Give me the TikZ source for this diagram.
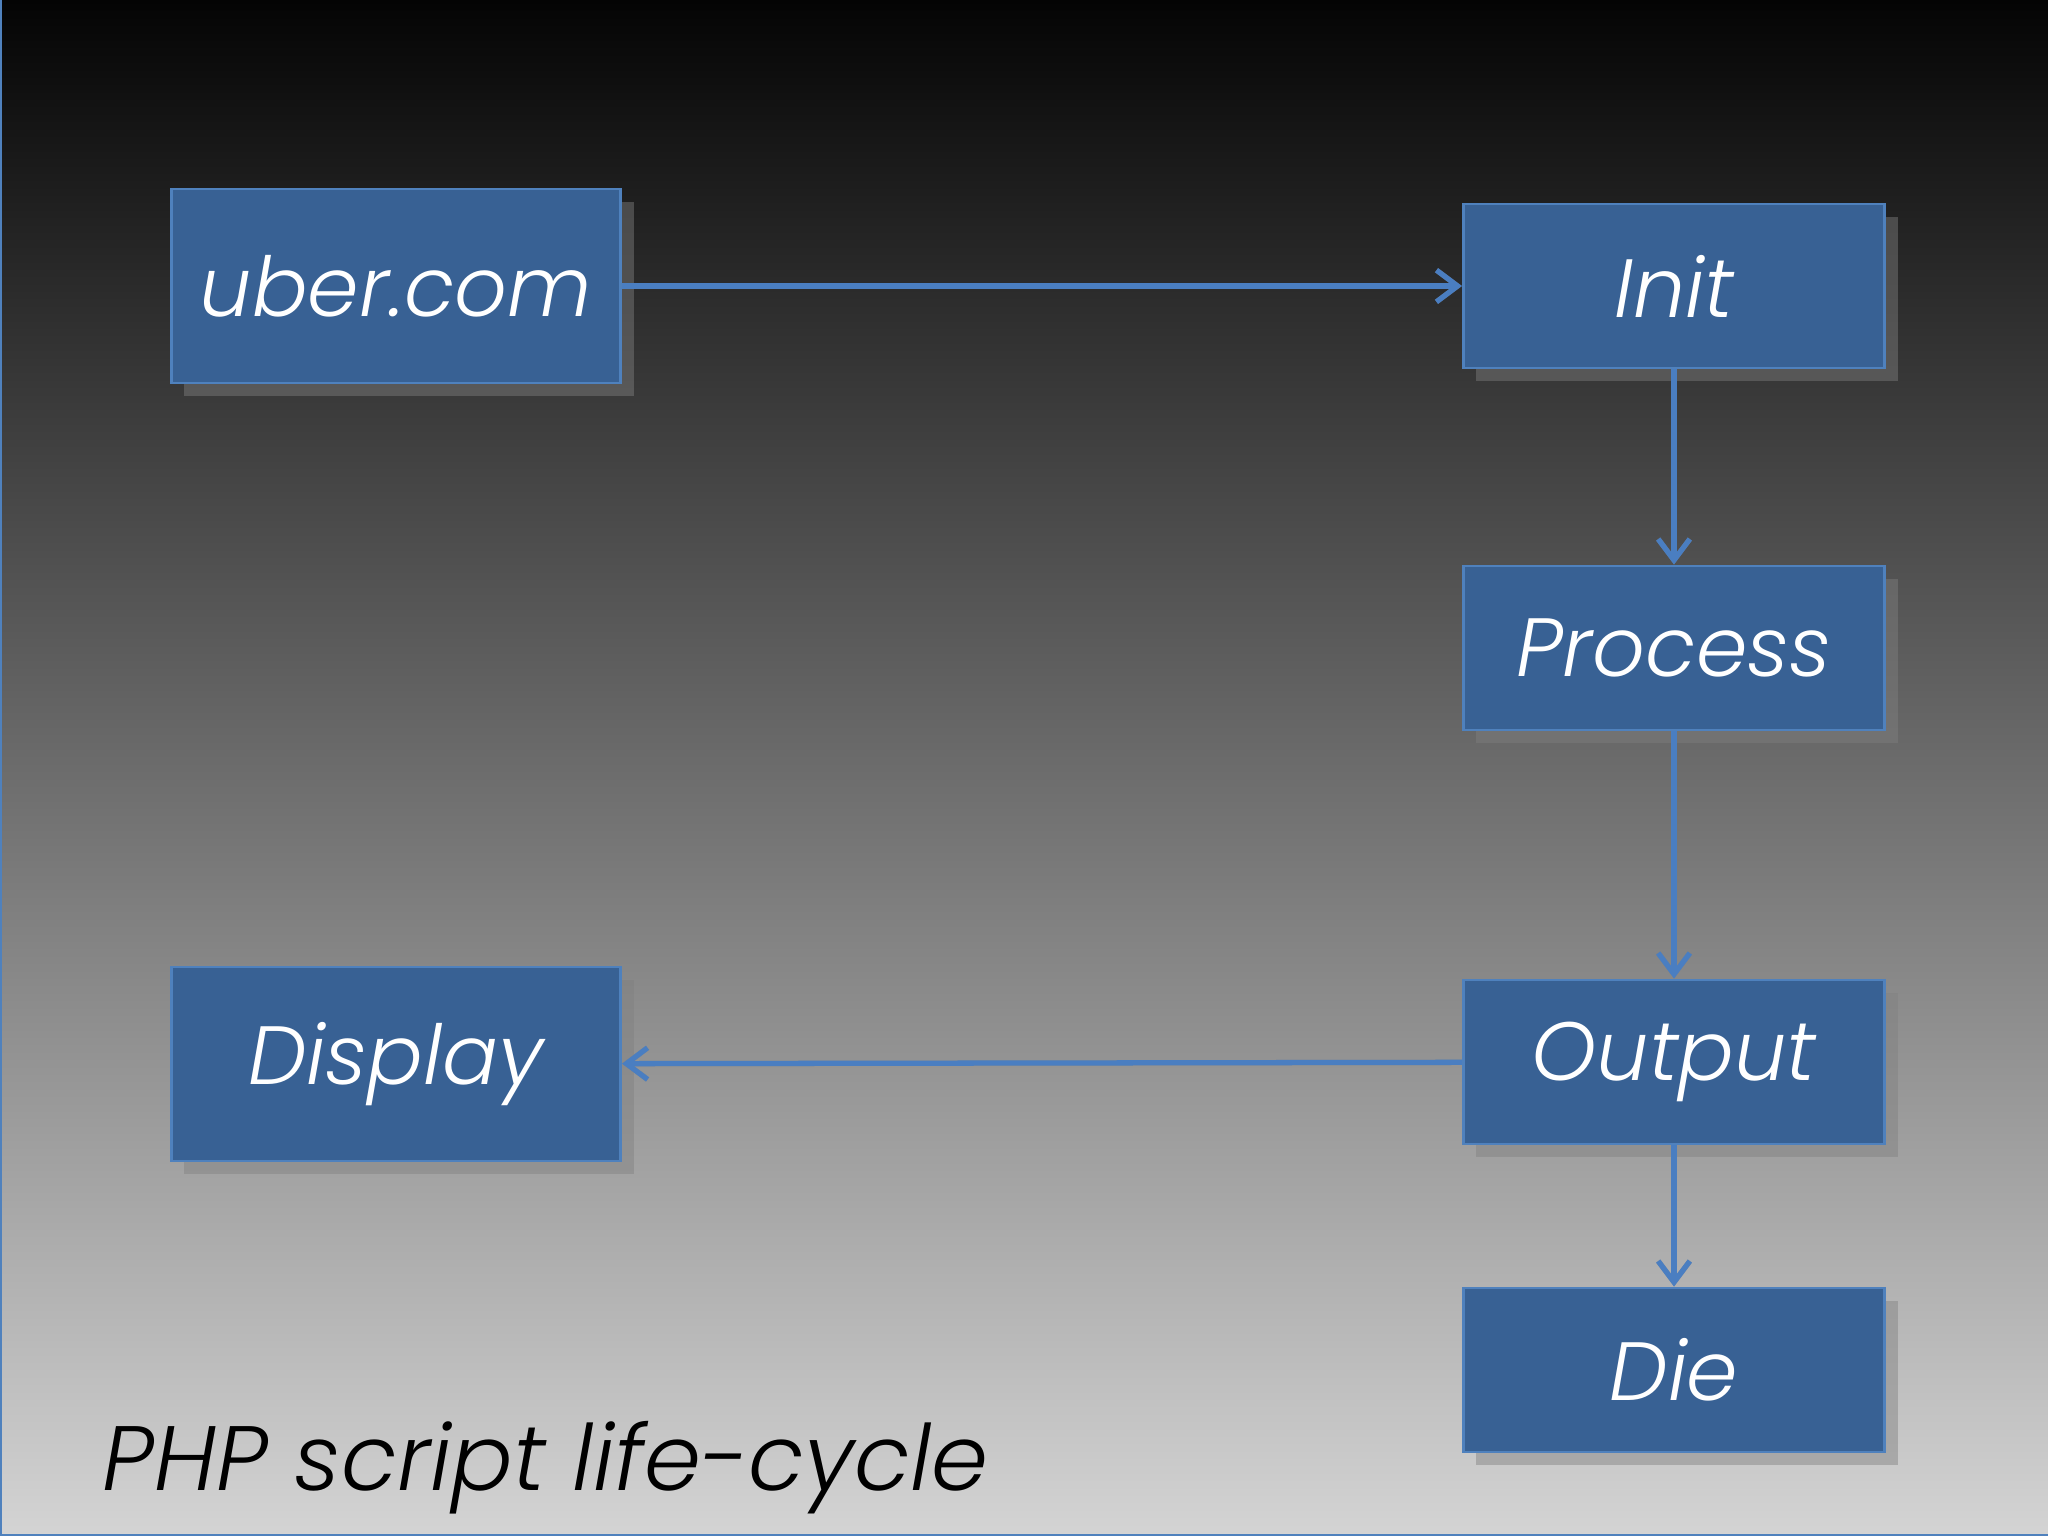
\documentclass[tikz,border=0pt]{standalone}
\usepackage{fontspec}
\setmainfont{Poppins}[UprightFont=* Light, ItalicFont=* Light Italic]
\usetikzlibrary{arrows.meta,shadows}

\definecolor{boxfill}{RGB}{56,97,148}
\definecolor{boxline}{RGB}{79,129,189}
\definecolor{arrowblue}{RGB}{74,126,193}
\definecolor{bgtop}{RGB}{4,4,4}
\definecolor{bgbottom}{RGB}{212,212,212}

\begin{document}
\begin{tikzpicture}[
    x=0.01cm, y=-0.01cm,
    box/.style={draw=boxline, fill=boxfill, text=white, line width=0.8pt,
        minimum width=4.21cm, minimum height=1.64cm, inner sep=0pt,
        font=\fontsize{23.5}{28}\selectfont\itshape,
        drop shadow={shadow xshift=0.13cm, shadow yshift=-0.13cm, fill=gray, opacity=0.45}},
    wide/.style={minimum width=4.49cm, minimum height=1.94cm},
    arrow/.style={-{Straight Barb[length=6pt,width=9pt]}, line width=1.5pt, draw=arrowblue},
    ghost/.style={arrow, draw=gray, opacity=0.5}
]

\useasboundingbox (0,0) rectangle (2048,1536);
\shade[top color=bgtop, bottom color=bgbottom] (0,0) rectangle (2048,1536);
\draw[boxline, line width=1.2pt] (0,0) -- (0,1536) -- (2048,1536);

\node[box, wide] (uber) at (396,286) {uber.com};
\node[box] (init) at (1674,286) {Init};
\node[box] (process) at (1674,648) {Process};
\node[box] (output) at (1674,1062) {Output};
\node[box] (die) at (1674,1370) {Die};
\node[box, wide] (display) at (396,1064) {Display};

% shadows of the connectors
\begin{scope}[xshift=0.15cm, yshift=-0.05cm]
\draw[ghost] (uber) -- (init);
\draw[ghost] (init) -- (process);
\draw[ghost] (process) -- (output);
\draw[ghost] (output) -- (die);
\draw[ghost] (output) -- (display);
\end{scope}

\draw[arrow] (uber) -- (init);
\draw[arrow] (init) -- (process);
\draw[arrow] (process) -- (output);
\draw[arrow] (output) -- (die);
\draw[arrow] (output) -- (display);

\node[anchor=base west, inner sep=0pt, font=\fontsize{26}{31}\selectfont\itshape] (title) at (102,1490) {PHP script life-cycle};

\end{tikzpicture}
\end{document}
